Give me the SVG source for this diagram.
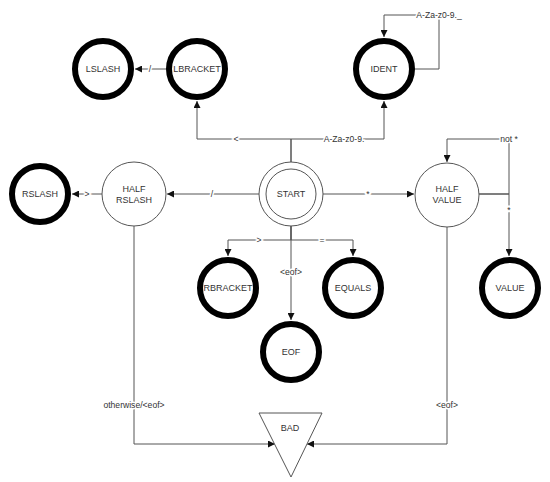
<svg xmlns="http://www.w3.org/2000/svg" width="550" height="482" viewBox="0 0 550 482">
<style>
.bg{fill:#fff}
.fin{fill:#fff;stroke:#000;stroke-width:6}
.st{fill:#fff;stroke:#555;stroke-width:1}
.lbl{font-family:"Liberation Sans",Arial,sans-serif;font-size:9px;fill:#333;text-anchor:middle}
.e{fill:none;stroke:#555;stroke-width:1}
.el{font-family:"Liberation Sans",Arial,sans-serif;font-size:8.6px;fill:#333;text-anchor:middle;stroke:#fff;stroke-width:3;paint-order:stroke}
</style>
<defs>
<marker id="ar" markerUnits="userSpaceOnUse" markerWidth="7" markerHeight="7" refX="7" refY="3.5" orient="auto">
<path d="M0,0 L7,3.5 L0,7 z" fill="#111"/>
</marker>
</defs>
<rect class="bg" x="0" y="0" width="550" height="482"/>
<g id="connectors">
<path class="e" d="M291,162 V139 H197 V101" marker-end="url(#ar)"/>
<path class="e" d="M291,162 V139 H384 V101" marker-end="url(#ar)"/>
<path class="e" d="M415,69 H439 V15 H384 V37" marker-end="url(#ar)"/>
<path class="e" d="M166,69 H135" marker-end="url(#ar)"/>
<path class="e" d="M259,194 H167" marker-end="url(#ar)"/>
<path class="e" d="M102,194 H72" marker-end="url(#ar)"/>
<path class="e" d="M323,194 H414" marker-end="url(#ar)"/>
<path class="e" d="M479,194 H509 V139 H447 V162" marker-end="url(#ar)"/>
<path class="e" d="M479,194 H509 V256" marker-end="url(#ar)"/>
<path class="e" d="M291,226 V240 H228 V256" marker-end="url(#ar)"/>
<path class="e" d="M291,226 V240 H353 V256" marker-end="url(#ar)"/>
<path class="e" d="M291,226 V320" marker-end="url(#ar)"/>
<path class="e" d="M134,226 V444 H275" marker-end="url(#ar)"/>
<path class="e" d="M447,227 V444 H307" marker-end="url(#ar)"/>
<text class="el" x="236" y="139" dy=".35em">&lt;</text>
<text class="el" x="344" y="139" dy=".35em">A-Za-z0-9.</text>
<text class="el" x="439" y="15" dy=".35em">A-Za-z0-9._</text>
<text class="el" x="150" y="69" dy=".35em">/</text>
<text class="el" x="212" y="194" dy=".35em">/</text>
<text class="el" x="87" y="194" dy=".35em">&gt;</text>
<text class="el" x="368" y="194" dy=".35em">*</text>
<text class="el" x="509" y="139" dy=".35em">not *</text>
<text class="el" x="509" y="210" dy=".35em">*</text>
<text class="el" x="259" y="240" dy=".35em">&gt;</text>
<text class="el" x="322" y="240" dy=".35em">=</text>
<text class="el" x="291" y="272" dy=".35em">&lt;eof&gt;</text>
<text class="el" x="134" y="405" dy=".35em">otherwise/&lt;eof&gt;</text>
<text class="el" x="447" y="405" dy=".35em">&lt;eof&gt;</text>
</g>
<g id="LSLASH"><circle class="fin" cx="103" cy="69" r="28"/><text class="lbl" x="103" y="69" dy=".35em">LSLASH</text></g>
<g id="LBRACKET"><circle class="fin" cx="197" cy="69" r="28"/><text class="lbl" x="197" y="69" dy=".35em">LBRACKET</text></g>
<g id="IDENT"><circle class="fin" cx="384" cy="69" r="28"/><text class="lbl" x="384" y="69" dy=".35em">IDENT</text></g>
<g id="RSLASH"><circle class="fin" cx="40" cy="194" r="28"/><text class="lbl" x="40" y="194" dy=".35em">RSLASH</text></g>
<g id="HALF_RSLASH"><circle class="st" cx="134" cy="194" r="32"/><text class="lbl" x="134" y="189" dy=".35em">HALF</text><text class="lbl" x="134" y="200" dy=".35em">RSLASH</text></g>
<g id="START"><circle class="st" cx="291" cy="194" r="32"/><circle class="st" cx="291" cy="194" r="25"/><text class="lbl" x="291" y="194" dy=".35em">START</text></g>
<g id="HALF_VALUE"><circle class="st" cx="447" cy="195" r="32"/><text class="lbl" x="447" y="189" dy=".35em">HALF</text><text class="lbl" x="447" y="200" dy=".35em">VALUE</text></g>
<g id="RBRACKET"><circle class="fin" cx="228" cy="288" r="28"/><text class="lbl" x="228" y="288" dy=".35em">RBRACKET</text></g>
<g id="EQUALS"><circle class="fin" cx="353" cy="288" r="28"/><text class="lbl" x="353" y="288" dy=".35em">EQUALS</text></g>
<g id="VALUE"><circle class="fin" cx="510" cy="288" r="28"/><text class="lbl" x="510" y="288" dy=".35em">VALUE</text></g>
<g id="EOF"><circle class="fin" cx="291" cy="352" r="28"/><text class="lbl" x="291" y="352" dy=".35em">EOF</text></g>
<g id="BAD"><polygon class="st" points="259,413 322,413 291,477"/><text class="lbl" x="290" y="428" dy=".35em">BAD</text></g>
</svg>
